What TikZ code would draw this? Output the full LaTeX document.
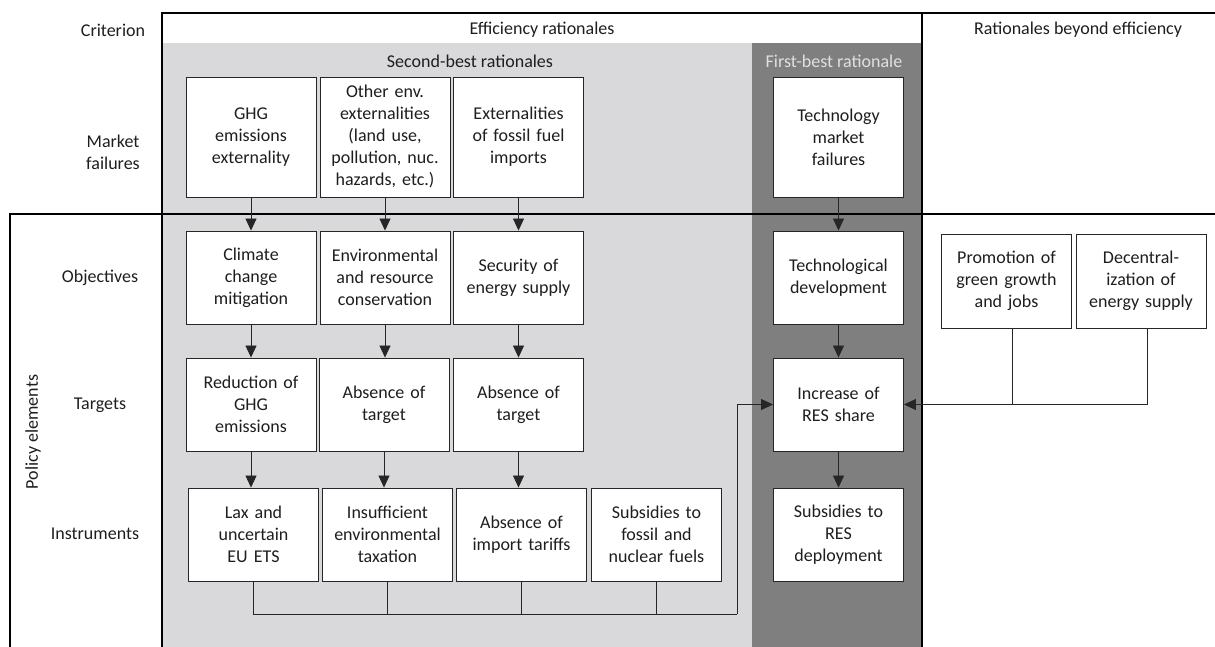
\documentclass[tikz,border=0pt]{standalone}
\usepackage{fontspec}
\setmainfont{Carlito}
\usetikzlibrary{arrows.meta}
\definecolor{lightg}{RGB}{217,217,219}
\definecolor{darkg}{RGB}{127,127,127}
\definecolor{txt}{RGB}{30,30,30}
\begin{document}
\begin{tikzpicture}[x=1pt,y=-1pt,
  every node/.style={text=txt, font=\fontsize{18}{22}\selectfont},
  box/.style={draw=black!85, fill=white, line width=0.9pt, minimum width=130pt, text width=126pt, align=center, inner sep=0pt, minimum height=93pt},
  tallbox/.style={box, minimum height=120pt},
  lbl/.style={inner sep=0pt, align=center},
  frame/.style={line width=1.6pt, black},
  conn/.style={line width=0.8pt, black!85},
  arr/.style={conn, -{Triangle[length=12pt,width=11pt]}}
]
\useasboundingbox (0,0) rectangle (1215,647);
% regions
\fill[lightg] (162,43) rectangle (752,647);
\fill[darkg] (752,43) rectangle (922,647);
\draw[frame] (162,647) -- (162,13) -- (1215,13);
\draw[frame] (922,13) -- (922,647);
\draw[line width=2.2pt] (1215,214) -- (10,214) -- (10,647);
% headings
\node[lbl] (crit) at (113,30) {Criterion};
\node[lbl] (eff) at (542,30) {Efficiency rationales};
\node[lbl] (beyond) at (1078,30) {Rationales beyond efficiency};
\node[lbl] (sb) at (470,61) {Second-best rationales};
\node[lbl, text=white!88!black] (fb) at (834,61) {First-best rationale};
\node[lbl] (mf) at (113,152) {Market\\failures};
\node[lbl] (obj) at (100,278) {Objectives};
\node[lbl] (tar) at (100,405) {Targets};
\node[lbl] (ins) at (95,534) {Instruments};
\node[lbl, rotate=90] (pe) at (33,432) {Policy elements};
% row 1
\node[tallbox] (m1) at (251,137) {GHG\\emissions\\externality};
\node[tallbox] (m2) at (385,137) {Other env.\\externalities\\(land use,\\pollution, nuc.\\hazards, etc.)};
\node[tallbox] (m3) at (518.5,137) {Externalities\\of fossil fuel\\imports};
\node[tallbox] (m4) at (838.5,137) {Technology\\market\\failures};
% row 2
\node[box] (o1) at (251,277.5) {Climate\\change\\mitigation};
\node[box] (o2) at (385,277.5) {Environmental\\and resource\\conservation};
\node[box] (o3) at (518.5,277.5) {Security of\\energy supply};
\node[box] (o4) at (838.5,277.5) {Technological\\development};
\node[box, minimum height=94pt] (p1) at (1006.5,281) {Promotion of\\green growth\\and jobs};
\node[box, minimum height=94pt] (p2) at (1141,281) {Decentral-\\ization of\\energy supply};
% row 3
\node[box] (t1) at (251,404.5) {Reduction of\\GHG\\emissions};
\node[box] (t2) at (384,404.5) {Absence of\\target};
\node[box] (t3) at (518.5,404.5) {Absence of\\target};
\node[box] (t4) at (838.5,404.5) {Increase of\\RES share};
% row 4
\node[box] (i1) at (253.5,534.5) {Lax and\\uncertain\\EU ETS};
\node[box] (i2) at (387.5,534.5) {Insufficient\\environmental\\taxation};
\node[box] (i3) at (521.5,534.5) {Absence of\\import tariffs};
\node[box] (i4) at (656.5,534.5) {Subsidies to\\fossil and\\nuclear fuels};
\node[box] (i5) at (838.5,534.5) {Subsidies to\\RES\\deployment};
% vertical arrows
\foreach \a/\b in {m1/o1,m2/o2,m3/o3,m4/o4,o1/t1,o2/t2,o3/t3,o4/t4,t1/i1,t2/i2,t3/i3,t4/i5}
  \draw[arr] (\a.south) -- (\a.south |- \b.north);
% bus from instruments
\coordinate (b0) at (737,614);
\draw[conn] (i1.south) -- (i1.south |- b0) -- (b0);
\foreach \i in {i2,i3,i4}
  \draw[conn] (\i.south) -- (\i.south |- b0);
\draw[arr] (b0) |- (t4.west);
% beyond-efficiency objectives
\draw[conn] ([xshift=6pt]p1.south) -- ([xshift=6pt]p1.south |- t4.east);
\draw[arr] ([xshift=6pt]p2.south) |- (t4.east);
\end{tikzpicture}
\end{document}
